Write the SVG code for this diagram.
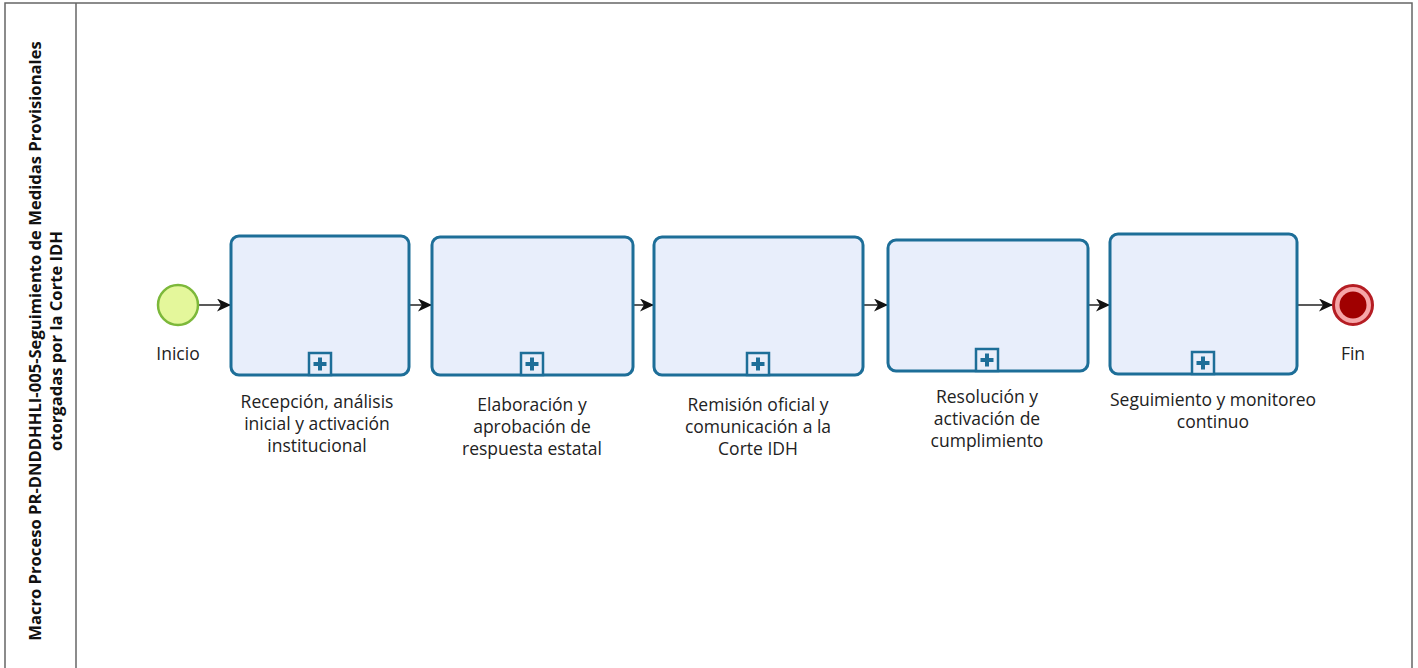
<svg xmlns="http://www.w3.org/2000/svg" width="1418" height="668" viewBox="0 0 1418 668">
<defs>
<marker id="arr" markerWidth="14" markerHeight="13" refX="13" refY="6.5" orient="auto" markerUnits="userSpaceOnUse">
<path d="M0,0 L14,6.5 L0,13 L4,6.5 Z" fill="#111"/>
</marker>
<g id="plus">
<rect x="-11" y="-22" width="22" height="22" fill="#e8eefa" stroke="#1d6e98" stroke-width="2.5"/>
<path d="M-2,-17.5 h4 v4.5 h4.5 v4 h-4.5 v4.5 h-4 v-4.5 h-4.5 v-4 h4.5 Z" fill="#1d6e98"/>
</g>
</defs>
<style>
.task{fill:#e8eefb;stroke:#1d6e98;stroke-width:3}
.lbl{font-family:"Open Sans","Noto Sans",sans-serif;font-size:17.5px;fill:#222;text-anchor:middle}
.title{font-family:"Open Sans","Noto Sans",sans-serif;font-size:16.6px;font-weight:bold;fill:#111;text-anchor:middle}
.flow{stroke:#222;stroke-width:1.5;fill:none}
</style>
<rect width="1418" height="668" fill="#fff"/>
<g id="pool">
<rect x="5" y="3" width="1407" height="700" fill="none" stroke="#666" stroke-width="1.5"/>
<line x1="76" y1="3" x2="76" y2="668" stroke="#666" stroke-width="1.5"/>
<text class="title" transform="translate(41,341) rotate(-90)">Macro Proceso PR-DNDDHHLI-005-Seguimiento de Medidas Provisionales</text>
<text class="title" transform="translate(62,341) rotate(-90)">otorgadas por la Corte IDH</text>
</g>
<g id="connectors">
<line class="flow" x1="199" y1="305" x2="230" y2="305" marker-end="url(#arr)"/>
<line class="flow" x1="410" y1="305" x2="431" y2="305" marker-end="url(#arr)"/>
<line class="flow" x1="634" y1="305" x2="653" y2="305" marker-end="url(#arr)"/>
<line class="flow" x1="864" y1="305" x2="887" y2="305" marker-end="url(#arr)"/>
<line class="flow" x1="1089" y1="305" x2="1109" y2="305" marker-end="url(#arr)"/>
<line class="flow" x1="1298" y1="305" x2="1332" y2="305" marker-end="url(#arr)"/>
</g>
<g id="start">
<circle cx="178" cy="305" r="20" fill="#e4f79b" stroke="#7cb83a" stroke-width="2.5"/>
<text class="lbl" x="178" y="360">Inicio</text>
</g>
<g id="task1">
<rect class="task" x="231" y="236" width="178" height="139" rx="8"/>
<use href="#plus" x="320" y="375"/>
<text class="lbl" x="317" y="408">Recepción, análisis</text>
<text class="lbl" x="317" y="430">inicial y activación</text>
<text class="lbl" x="317" y="452">institucional</text>
</g>
<g id="task2">
<rect class="task" x="432" y="237" width="201" height="138" rx="8"/>
<use href="#plus" x="532" y="375"/>
<text class="lbl" x="532" y="411">Elaboración y</text>
<text class="lbl" x="532" y="433">aprobación de</text>
<text class="lbl" x="532" y="455">respuesta estatal</text>
</g>
<g id="task3">
<rect class="task" x="654" y="237" width="209" height="138" rx="8"/>
<use href="#plus" x="758" y="375"/>
<text class="lbl" x="758" y="411">Remisión oficial y</text>
<text class="lbl" x="758" y="433">comunicación a la</text>
<text class="lbl" x="758" y="455">Corte IDH</text>
</g>
<g id="task4">
<rect class="task" x="888" y="240" width="200" height="131" rx="8"/>
<use href="#plus" x="987" y="371"/>
<text class="lbl" x="987" y="403">Resolución y</text>
<text class="lbl" x="987" y="425">activación de</text>
<text class="lbl" x="987" y="447">cumplimiento</text>
</g>
<g id="task5">
<rect class="task" x="1110" y="234" width="187" height="140" rx="8"/>
<use href="#plus" x="1203" y="374"/>
<text class="lbl" x="1213" y="406">Seguimiento y monitoreo</text>
<text class="lbl" x="1213" y="428">continuo</text>
</g>
<g id="end">
<circle cx="1353" cy="305" r="19.5" fill="#f6a6a8" stroke="#b51d23" stroke-width="3"/>
<circle cx="1353" cy="305" r="13.5" fill="#a00000"/>
<text class="lbl" x="1353" y="360">Fin</text>
</g>
</svg>
